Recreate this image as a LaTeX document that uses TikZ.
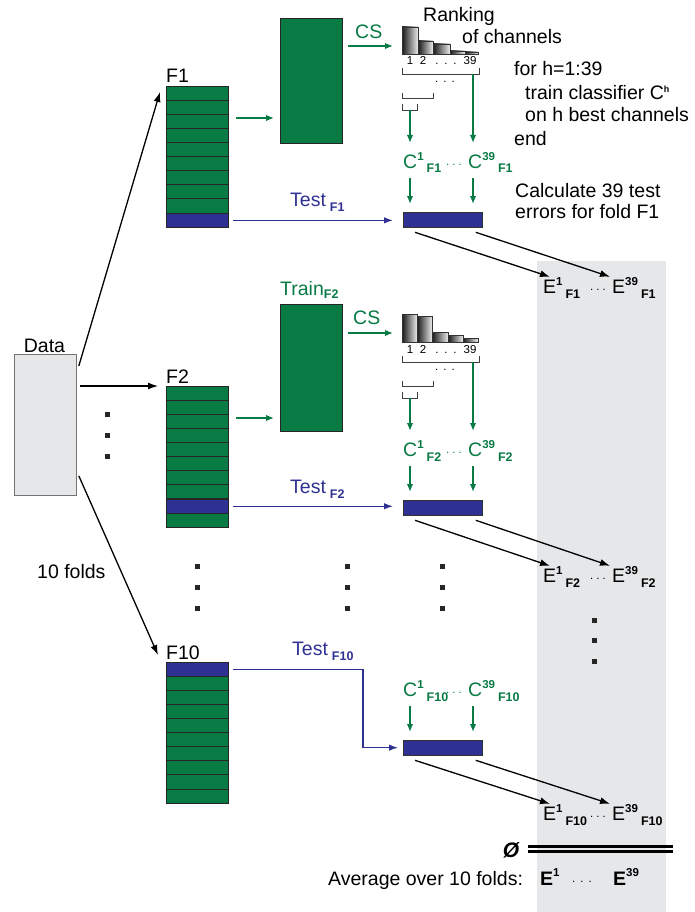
\documentclass[tikz,border=0pt]{standalone}
\usepackage{fontspec}
\setmainfont{Liberation Sans}
\usepackage{tikz}
\usepackage[dvipsnames]{xcolor}
\usetikzlibrary{arrows.meta}

\definecolor{foldgreen}{RGB}{8,122,68}
\definecolor{foldblue}{RGB}{46,49,146}
\definecolor{panelgray}{RGB}{230,231,233}

\newcommand{\supsz}{\fontsize{11.5}{11.5}\selectfont\bfseries}
\newcommand{\subsz}{\fontsize{12.5}{12.5}\selectfont\bfseries}
\newcommand{\idx}[3]{#1\raisebox{8pt}{\supsz #2}\kern3pt\raisebox{-5pt}{\subsz #3}}
\newcommand{\lowsub}[2]{#1\kern4pt\raisebox{-5pt}{\subsz #2}}

\tikzset{
  txt/.style={font=\fontsize{19.5}{21}\selectfont, inner sep=0pt},
  lbl/.style={txt, anchor=base west},
  small/.style={font=\fontsize{11.5}{11.5}\selectfont, inner sep=0pt},
  databox/.style={draw=black!55, line width=0.8pt, fill=panelgray, minimum width=62pt, minimum height=141pt, inner sep=0pt, anchor=north west},
  foldcol/.style={draw=black!85, line width=0.8pt, fill=foldgreen, minimum width=62pt, minimum height=141pt, inner sep=0pt, anchor=north west},
  testrow/.style={foldcol, fill=foldblue, minimum height=14.1pt},
  trainbox/.style={foldcol, minimum height=125pt},
  testbar/.style={draw=black!80, line width=0.8pt, fill=foldblue, minimum width=79pt, minimum height=14.5pt, inner sep=0pt, anchor=north west},
  foldsep/.style={black!85, line width=0.8pt},
  brk/.style={black!75, line width=0.7pt},
  bar/.style={draw=black!80, line width=0.5pt, left color=black!90, right color=black!8},
  arr/.style={line width=1.3pt, -{Latex[length=10pt,width=7pt]}},
  garr/.style={foldgreen, line width=1.5pt, -{Latex[length=8pt,width=6.5pt]}},
  tarr/.style={foldblue, line width=1.3pt, -{Latex[length=9pt,width=6.5pt]}},
}

\newcommand{\rankchart}[3]{%
  \coordinate (#1) at (402,#2);
  \begin{scope}[shift={(#1)}]
    \foreach \a/\b/\h in {#3} \shadedraw[bar] (\a,0) rectangle (\b,-\h);
    \foreach \x/\s in {8/1,21/2,35/.,44/.,53/.,68/39}
      \node[small, anchor=base] at (\x,11) {\s};
    \draw[brk] (0,14) |- (77,20) -- (77,14);
    \node[small] at (43,28) {.\hspace{5pt}.\hspace{5pt}.};
    \draw[brk] (0,39) |- (31,44) -- (31,39);
    \draw[brk] (0,50) |- (15,56) -- (15,50);
    \draw[garr] (8,56) -- (8,89);
    \draw[garr] (71,20) -- (71,89);
  \end{scope}}

\newcommand{\classrow}[3]{%
  \coordinate (#1) at (402,#2);
  \begin{scope}[shift={(#1)}]
    \node[lbl, text=foldgreen] (#1c1) at (1,114) {\idx{C}{1}{#3}};
    \node[lbl, text=foldgreen] (#1c39) at (66,114) {\idx{C}{39}{#3}};
    \node[small, text=foldgreen] at (52,111) {.\hspace{3pt}.\hspace{3pt}.};
    \draw[garr] (8,124) -- (8,150);
    \draw[garr] (71,124) -- (71,150);
    \node[testbar] (b#1) at (1,158) {};
  \end{scope}}

\newcommand{\errrow}[3]{%
  \node[lbl] (#1e1) at (543,#2) {\idx{E}{1}{#3}};
  \node[lbl] (#1e39) at (612,#2) {\idx{E}{39}{#3}};
  \node[small] at (598,#2-3) {.\hspace{3pt}.\hspace{3pt}.};
  \draw[arr] ([xshift=12pt,yshift=-5pt]b#1.south west) -- ([xshift=7pt]#1e1.north west);
  \draw[arr] ([xshift=-7pt,yshift=-5pt]b#1.south east) -- ([xshift=-2pt]#1e39.north west);}

\begin{document}
\begin{tikzpicture}[x=1pt,y=-1pt]
\useasboundingbox (0,0) rectangle (694,912);
\fill[panelgray] (537,261) rectangle (666,912);

\node[databox] (data) at (14,354) {};
\node[txt, anchor=base] at (44.5,352) {Data};
\node[lbl] at (37,578) {10 folds};

\foreach \nm/\yy/\tst/\lab in {a/86/9/F1, b/386/8/F2, c/662/0/F10}{
  \node[foldcol] (f\nm) at (166,\yy) {};
  \foreach \r in {1,...,9} \draw[foldsep] ([yshift=-\r*14.1pt]f\nm.north west) -- ++(63,0);
  \node[testrow] (t\nm) at ([yshift=-\tst*14.1pt]f\nm.north west) {};
  \node[lbl] at ([yshift=3pt]f\nm.north west) {\lab};
}

\draw[arr] ([xshift=2pt,yshift=-12pt]data.north east) -- ([xshift=-6pt,yshift=-6pt]fa.north west);
\draw[arr] ([xshift=3pt,yshift=-32pt]data.north east) -- ([xshift=-8pt]fb.north west);
\draw[arr] ([xshift=2pt,yshift=20pt]data.south east) -- ([xshift=-8pt,yshift=7pt]fc.north west);

\node[trainbox] (tra) at (280,18) {};
\node[trainbox, minimum height=127pt] (trb) at (280,304) {};
\node[lbl, text=foldgreen] at (280,295) {Train\raisebox{-3pt}{\subsz F2}};

\rankchart{ra}{54}{0/16/27,16/31/13,31/48/10,48/63/3,63/76/2}
\rankchart{rb}{342}{0/15/28,15/30/26,30/46/10,46/61/7,61/76/4}
\classrow{a}{54}{F1}
\classrow{b}{342}{F2}
\classrow{c}{582}{F10}

\coordinate (ga) at ([xshift=7pt,yshift=-32pt]fa.north east);
\draw[garr, shorten >=6pt] (ga) -- (ga -| tra.west);
\coordinate (gb) at ([xshift=7pt,yshift=-32pt]fb.north east);
\draw[garr, shorten >=6pt] (gb) -- (gb -| trb.west);

\coordinate (csa) at ([xshift=5pt,yshift=-28pt]tra.north east);
\draw[garr, shorten >=9pt] (csa) -- (csa -| ra);
\node[lbl, text=foldgreen] at (355,39) {CS};
\coordinate (csb) at ([xshift=5pt,yshift=-29pt]trb.north east);
\draw[garr, shorten >=9pt] (csb) -- (csb -| rb);
\node[lbl, text=foldgreen] at (353,324) {CS};

\coordinate (sa) at ([xshift=4pt]ta.east);
\draw[tarr, shorten >=10pt] (sa) -- (sa -| ba.west);
\node[lbl, text=foldblue] at (290,207) {\lowsub{Test}{F1}};
\coordinate (sb) at ([xshift=4pt]tb.east);
\draw[tarr, shorten >=10pt] (sb) -- (sb -| bb.west);
\node[lbl, text=foldblue] at (290,493) {\lowsub{Test}{F2}};
\coordinate (sc) at ([xshift=4pt]tc.east);
\draw[tarr, shorten >=5pt] (sc) -| ([xshift=-40pt]bc.west) -- (bc.west);
\node[lbl, text=foldblue] at (292,655) {\lowsub{Test}{F10}};

\errrow{a}{293}{F1}
\errrow{b}{582}{F2}
\errrow{c}{820}{F10}

\node[lbl] at (423,22) {Ranking};
\node[lbl] at (462,44) {of channels};
\node[lbl] at (514,76) {for h=1:39};
\node[lbl] at (525,100) {train classifier C\raisebox{7pt}{\fontsize{9}{9}\selectfont\bfseries h}};
\node[lbl] at (525,122) {on h best channels};
\node[lbl] at (514,146) {end};
\node[lbl] at (515,197) {Calculate 39 test};
\node[lbl] at (515,218) {errors for fold F1};

\foreach \x/\y in {107/414,107/435,107/456,197/566,197/587,197/608,347/566,347/587,347/608,
                   442/566,442/587,442/608,594/620,594/640,594/661}
  \fill[black!85] (\x-2.5,\y-2.5) rectangle ++(5,5);

\node[txt, font=\fontsize{21}{21}\selectfont\bfseries\itshape] at (511,850) {Ø};
\draw[line width=2.6pt] (528,846.5) -- (673,846.5);
\draw[line width=2.6pt] (528,851.5) -- (673,851.5);
\node[lbl] at (328,885) {Average over 10 folds:};
\node[lbl] (avg1) at (540,885) {\bfseries E\raisebox{9pt}{\supsz 1}};
\node[small] at (582,882) {.\hspace{5pt}.\hspace{5pt}.};
\node[lbl] (avg39) at (613,885) {\bfseries E\raisebox{9pt}{\supsz 39}};
\end{tikzpicture}
\end{document}
